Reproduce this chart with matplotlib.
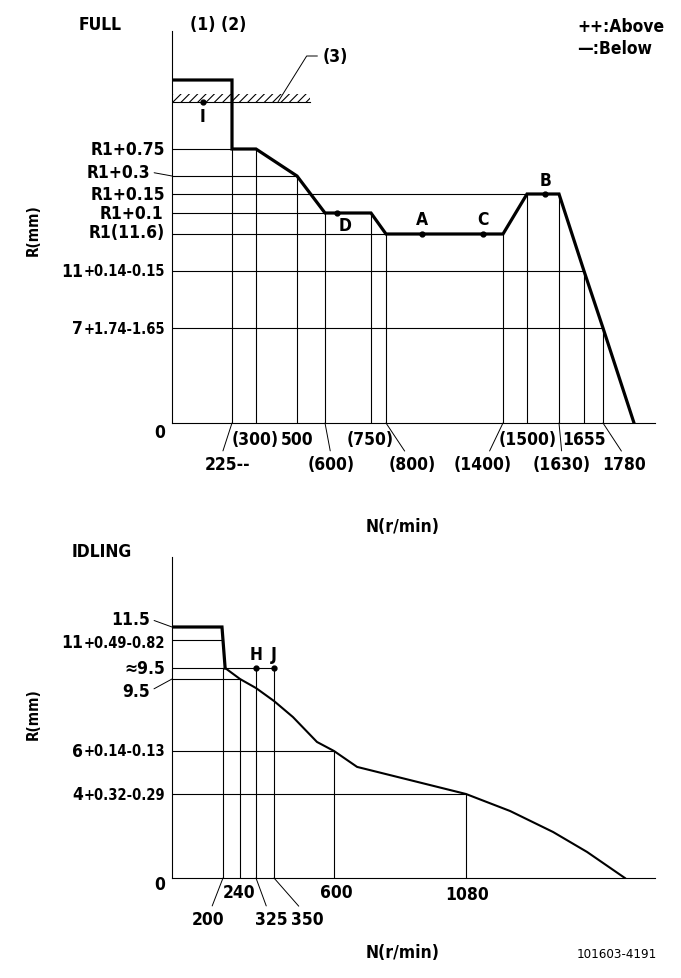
import numpy as np
import matplotlib
matplotlib.use('Agg')
import matplotlib.pyplot as plt

plt.rcParams['font.family'] = ['DejaVu Sans']
plt.rcParams['font.stretch'] = 'condensed'
plt.rcParams['font.weight'] = 'bold'
plt.rcParams['hatch.linewidth'] = 0.8

# ---------------- FULL (top) ----------------
stop_level = 12.9      # stopper line (3)
start_level = 13.3     # starting rack position
full_rpm = [0, 225, 225, 300, 500, 600, 750, 800, 1400, 1500, 1630, 1655, 1780, 1870]
full_r = [start_level, start_level, 12.35, 12.35, 11.9, 11.7, 11.7, 11.6, 11.6,
          11.75, 11.75, 11.0, 7.0, 0.0]
full_ticks = [225, 300, 500, 600, 750, 800, 1400, 1500, 1630, 1655, 1780]
full_tick_labels = ['225--', '(300)', '500', '(600)', '(750)', '(800)',
                    '(1400)', '(1500)', '(1630)', '1655', '1780']
full_levels = [12.35, 11.9, 11.75, 11.7, 11.6, 11.0, 7.0]
full_level_reach = [225, 500, 1500, 600, 800, 1655, 1780]
full_level_main = ['R1+0.75', 'R1+0.3', 'R1+0.15', 'R1+0.1', 'R1(11.6)', '11', '7']
full_level_tol = ['', '', '', '', '', '+0.14-0.15', '+1.74-1.65']
full_pt_names = ['I', 'D', 'A', 'C', 'B']
full_pt_rpm = [115, 640, 985, 1295, 1575]
full_pt_r = [stop_level, 11.7, 11.6, 11.6, 11.75]
hatch_end_rpm = 545

# ---------------- IDLING (bottom) ----------------
idle_rpm = [0, 196, 205, 240, 325, 350, 429, 529, 600, 684, 1080, 1241, 1398, 1522, 1660]
idle_r = [11.5, 11.5, 9.7, 9.5, 9.06, 8.43, 7.65, 6.44, 6.0, 5.26, 4.0, 3.19, 2.19, 1.24, 0.0]
idle_ticks = [200, 240, 325, 350, 600, 1080]
idle_tick_labels = ['200', '240', '325', '350', '600', '1080']
idle_tick_top = [9.7, 9.5, 9.7, 9.7, 6.0, 4.0]
idle_levels = [11.5, 11.0, 9.7, 9.5, 6.0, 4.0]
idle_level_reach = [0, 196, 350, 240, 600, 1080]
idle_level_main = ['11.5', '11', '\u22489.5', '9.5', '6', '4']
idle_level_tol = ['', '+0.49-0.82', '', '', '+0.14-0.13', '+0.32-0.29']
idle_pt_names = ['H', 'J']
idle_pt_rpm = [325, 350]
idle_pt_r = [9.7, 9.7]

# ---------------- layout (schematic, non-linear axes) ----------------
W, H = 681, 979
full_x_knots = ([0, 225, 300, 500, 600, 750, 800, 1400, 1500, 1630, 1655, 1780, 1870, 1950],
                [172, 232, 256, 297, 325, 371, 386, 503, 527, 559, 584, 603, 634, 655])
full_y_knots = ([0, 7, 11, 11.6, 11.7, 11.75, 11.9, 12.35, 12.9, 13.3, 14.5],
                [0, 95, 152, 189, 210, 229, 247, 274, 321, 343, 392])
idle_x_knots = ([0, 200, 240, 325, 350, 600, 1080, 1770],
                [172, 223, 240, 256, 274, 334, 466, 655])
idle_y_knots = ([0, 4, 6, 9.5, 9.7, 11, 11.5, 13.0],
                [0, 84, 127, 199, 210, 238, 251, 321])

full_tick_off = [(-4, -41), (-1, -16), (0, -16), (6, -41), (-1, -16), (26, -41),
                 (-20, -41), (1, -16), (3, -41), (0, -16), (21, -41)]
full_tick_rel = [(0.36, 1), None, None, (0.5, 1), None, (0.4, 1),
                 (0.58, 1), None, (0.5, 1), None, (0.5, 1)]
full_level_off = [(-7, 0), (-22, 4), (-7, 0), (-9, 0), (-7, 2), (-7, 0), (-7, 0)]
full_level_leader = [False, True, False, False, False, False, False]
full_pt_off = [(0, -14), (8, -12), (0, 15), (0, 15), (0, 14)]

idle_tick_off = [(-15, -41), (-1, -14), (15, -41), (33, -41), (2, -14), (1, -16)]
idle_tick_rel = [(0.58, 1), None, (0.4, 1), (0.35, 1), None, None]
idle_level_off = [(-22, 8), (-7, -2), (-7, 0), (-22, -12), (-7, 0), (-7, 0)]
idle_level_leader = [True, False, False, True, False, False]
idle_pt_off = [(0, 14), (0, 14)]

LW_THIN = 0.8
BIG, SMALL = 12.5, 10.5


def knot_scale(ax, xk, yk):
    xv, xp = np.array(xk[0], float), np.array(xk[1], float)
    yv, yp = np.array(yk[0], float), np.array(yk[1], float)
    ax.set_xscale('function', functions=(lambda v: np.interp(v, xv, xp),
                                         lambda p: np.interp(p, xp, xv)))
    ax.set_yscale('function', functions=(lambda v: np.interp(v, yv, yp),
                                         lambda p: np.interp(p, yp, yv)))
    ax.set_xlim(xv[0], xv[-1])
    ax.set_ylim(yv[0], yv[-1])
    ax.set_xticks([])
    ax.set_yticks([])
    for s in ['top', 'right']:
        ax.spines[s].set_visible(False)
    for s in ['left', 'bottom']:
        ax.spines[s].set_linewidth(LW_THIN)


def note(ax, txt, xy, off, size=BIG, ha='center', va='center', rel=None, **kw):
    props = None
    if rel is not None:
        props = dict(arrowstyle='-', lw=0.7, color='black', shrinkA=1, shrinkB=0, relpos=rel)
    return ax.annotate(txt, xy=xy, xytext=off, textcoords='offset pixels', ha=ha, va=va,
                       fontsize=size, arrowprops=props, annotation_clip=False, **kw)


def level_labels(ax, levels, mains, tols, offs, leaders):
    for lv, m, t, off, ld in zip(levels, mains, tols, offs, leaders):
        if t:
            small = note(ax, t, (0, lv), off, size=SMALL, ha='right')
            ax.annotate(m, xy=(0, 0.5), xycoords=small, ha='right', va='center',
                        fontsize=BIG, annotation_clip=False)
        else:
            note(ax, m, (0, lv), off, ha='right', rel=(1, 0.5) if ld else None)


def tick_labels(ax, ticks, labels, offs, rels):
    for t, lab, off, rel in zip(ticks, labels, offs, rels):
        note(ax, lab, (t, 0), off, rel=rel)


fig = plt.figure(figsize=(W / 100, H / 100), dpi=100)

# ---- top chart
ax1 = fig.add_axes([172 / W, 1 - 424 / H, (655 - 172) / W, (424 - 32) / H])
knot_scale(ax1, full_x_knots, full_y_knots)
for lv, reach in zip(full_levels, full_level_reach):
    ax1.plot([0, reach], [lv, lv], color='black', lw=LW_THIN)
tick_top = np.interp(full_ticks, full_rpm[2:], full_r[2:])
for t, top in zip(full_ticks, tick_top):
    ax1.plot([t, t], [0, top], color='black', lw=LW_THIN)
ax1.plot([0, hatch_end_rpm], [stop_level, stop_level], color='black', lw=LW_THIN)
ax1.fill_between([0, hatch_end_rpm], stop_level, 13.04, facecolor='none',
                 edgecolor='black', hatch='////', linewidth=0)
ax1.plot(full_rpm, full_r, color='black', lw=2.3, solid_joinstyle='miter')
ax1.plot(full_pt_rpm, full_pt_r, 'o', color='black', ms=3.5)
for name, x, y, off in zip(full_pt_names, full_pt_rpm, full_pt_r, full_pt_off):
    note(ax1, name, (x, y), off)
ax1.annotate('(3)', xy=(407, stop_level), xytext=(45, 46), textcoords='offset pixels',
             ha='left', va='center', fontsize=BIG, annotation_clip=False,
             arrowprops=dict(arrowstyle='-', lw=0.7, color='black', shrinkA=2, shrinkB=0,
                             relpos=(0, 0.5),
                             connectionstyle='angle,angleA=0,angleB=58,rad=0'))
level_labels(ax1, full_levels, full_level_main, full_level_tol, full_level_off, full_level_leader)
tick_labels(ax1, full_ticks, full_tick_labels, full_tick_off, full_tick_rel)
note(ax1, '0', (0, 0), (-12, -9))

# ---- bottom chart
ax2 = fig.add_axes([172 / W, 1 - 879 / H, (655 - 172) / W, (879 - 558) / H])
knot_scale(ax2, idle_x_knots, idle_y_knots)
for lv, reach in zip(idle_levels, idle_level_reach):
    ax2.plot([0, reach], [lv, lv], color='black', lw=LW_THIN)
for t, top in zip(idle_ticks, idle_tick_top):
    ax2.plot([t, t], [0, top], color='black', lw=LW_THIN)
ax2.plot(idle_rpm[:3], idle_r[:3], color='black', lw=2.3, solid_joinstyle='miter')
ax2.plot(idle_rpm[2:], idle_r[2:], color='black', lw=1.5)
ax2.plot(idle_pt_rpm, idle_pt_r, 'o', color='black', ms=3.5)
for name, x, y, off in zip(idle_pt_names, idle_pt_rpm, idle_pt_r, idle_pt_off):
    note(ax2, name, (x, y), off)
level_labels(ax2, idle_levels, idle_level_main, idle_level_tol, idle_level_off, idle_level_leader)
tick_labels(ax2, idle_ticks, idle_tick_labels, idle_tick_off, idle_tick_rel)
note(ax2, '0', (0, 0), (-12, -6))


def ftext(x, y, s, size=BIG, ha='left', **kw):
    fig.text(x / W, 1 - y / H, s, ha=ha, va='center', fontsize=size, **kw)


ftext(79, 25, 'FULL')
ftext(190, 25, '(1) (2)')
ftext(577, 27, '++:Above')
ftext(577, 49, '\u2014:Below')
ftext(33, 230, 'R(mm)', size=11, ha='center', rotation=90)
ftext(403, 527, 'N(r/min)', ha='center')
ftext(72, 552, 'IDLING')
ftext(33, 714, 'R(mm)', size=11, ha='center', rotation=90)
ftext(403, 953, 'N(r/min)', ha='center')
ftext(577, 955, '101603-4191', size=9.5, fontweight='normal')

fig.savefig('out.png', dpi=100)
